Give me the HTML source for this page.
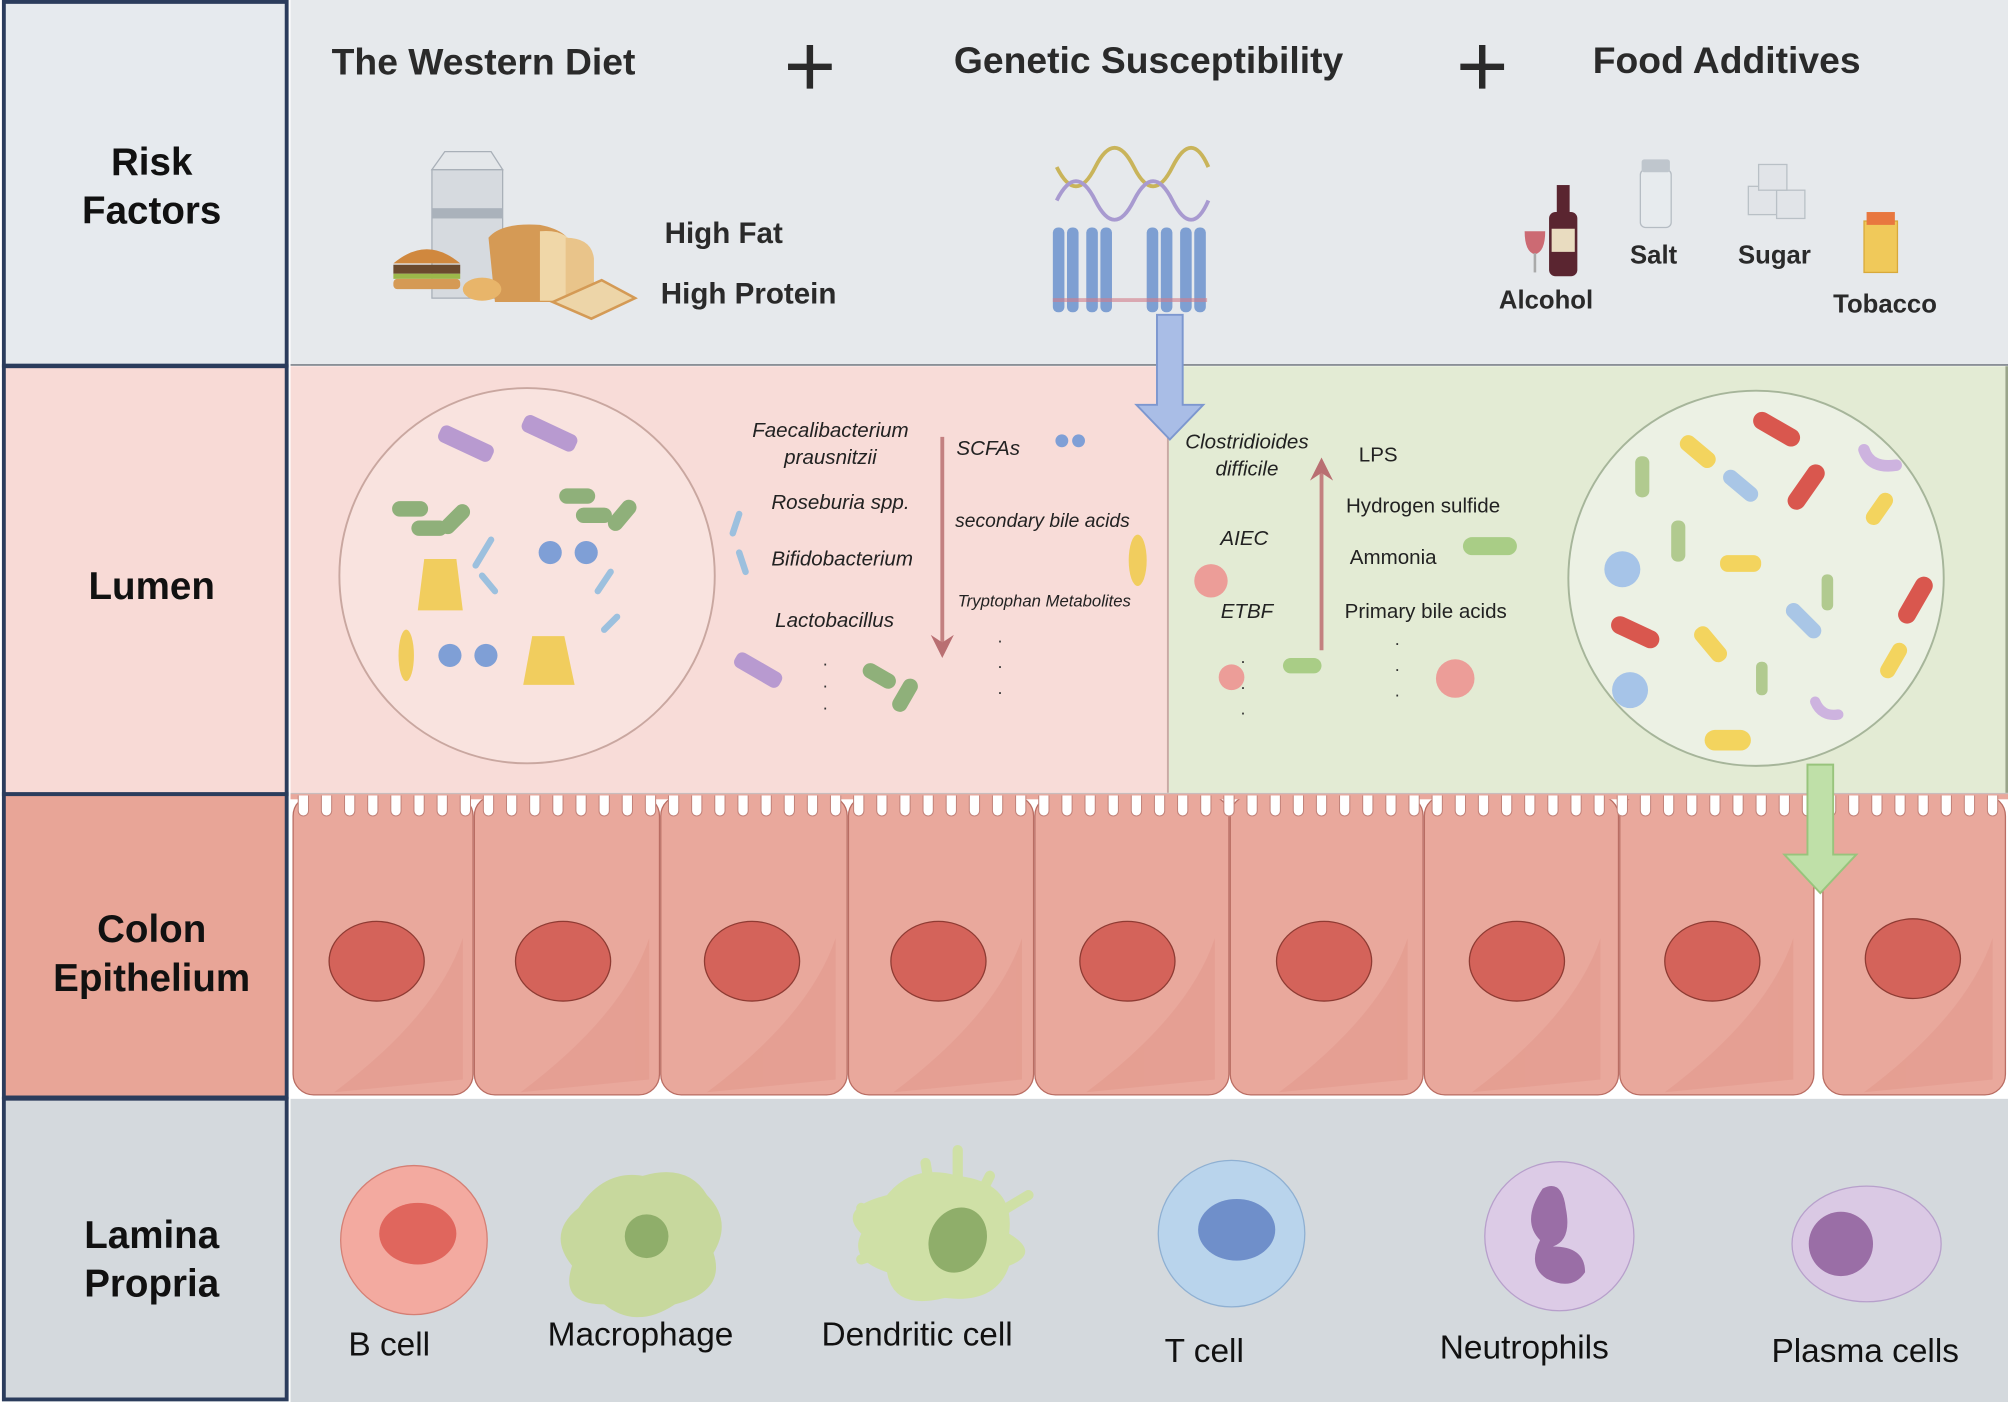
<!DOCTYPE html>
<html><head><meta charset="utf-8">
<style>
html,body{margin:0;padding:0;background:#fff;}
svg{display:block;}
text{font-family:"Liberation Sans",Arial,sans-serif;}
</style></head>
<body>
<svg width="2008" height="1402" viewBox="0 0 1562 1091" preserveAspectRatio="none" xmlns="http://www.w3.org/2000/svg">
<!-- backgrounds -->
<rect x="0" y="0" width="1562" height="1091" fill="#ffffff"/>
<rect x="226" y="0" width="1336" height="284" fill="#e6e9ec"/>
<line x1="226" y1="284" x2="1562" y2="284" stroke="#8a8f96" stroke-width="1.5"/>
<rect x="226" y="285" width="682" height="332" fill="#f8dcd8"/>
<rect x="909" y="285" width="653" height="332" fill="#e3ebd4"/>
<line x1="908.5" y1="285" x2="908.5" y2="617" stroke="#c9a9a4" stroke-width="1.5"/>
<rect x="1560" y="285" width="2" height="332" fill="#9aa58a"/>
<rect x="226" y="617" width="1336" height="2" fill="#c9bcbc"/>
<rect x="226" y="855" width="1336" height="236" fill="#d4d9dd"/>

<!-- left column -->
<g stroke="#2b3c5c" stroke-width="3">
<rect x="3" y="1.5" width="220" height="283" fill="#e6eaee"/>
<rect x="3" y="285" width="220" height="333" fill="#f8dad6"/>
<rect x="3" y="618" width="220" height="236" fill="#e8a597"/>
<rect x="3" y="855" width="220" height="234" fill="#d4d9dd"/>
</g>
<g font-weight="bold" font-size="30" fill="#111" text-anchor="middle">
<text x="118" y="136">Risk</text>
<text x="118" y="174">Factors</text>
<text x="118" y="466">Lumen</text>
<text x="118" y="733">Colon</text>
<text x="118" y="771">Epithelium</text>
<text x="118" y="971">Lamina</text>
<text x="118" y="1009">Propria</text>
</g>

<!-- header -->
<g font-weight="bold" font-size="29" fill="#2a2a2a">
<text x="258" y="58">The Western Diet</text>
<text x="742" y="57">Genetic Susceptibility</text>
<text x="1239" y="57">Food Additives</text>
</g>
<g stroke="#2a2a2a" stroke-width="5">
<line x1="613" y1="52" x2="647" y2="52"/><line x1="630" y1="35" x2="630" y2="69"/>
<line x1="1136" y1="52" x2="1170" y2="52"/><line x1="1153" y1="35" x2="1153" y2="69"/>
</g>
<g font-weight="bold" font-size="23" fill="#2a2a2a">
<text x="517" y="189">High Fat</text>
<text x="514" y="236">High Protein</text>
</g>
<g font-weight="bold" font-size="20" fill="#2a2a2a">
<text x="1166" y="240">Alcohol</text>
<text x="1268" y="205">Salt</text>
<text x="1352" y="205">Sugar</text>
<text x="1426" y="243">Tobacco</text>
</g>

<!-- food icons -->
<rect x="336" y="132" width="55" height="100" fill="#d6dadf" stroke="#a9b0b8"/>
<polygon points="336,132 346,118 382,118 391,132" fill="#e4e7ea" stroke="#a9b0b8"/>
<rect x="336" y="162" width="55" height="8" fill="#aab2bb"/>
<path d="M380,185 q10,-12 40,-10 q25,5 25,20 l0,40 l-60,0 z" fill="#d59a55"/>
<path d="M420,180 q22,-2 28,14 l0,40 l-28,0 z" fill="#f0d7a8"/>
<path d="M440,185 q20,0 22,16 l0,32 l-22,0 z" fill="#e9c48a"/>
<polygon points="430,235 468,218 494,232 460,248" fill="#edd5a8" stroke="#d49a55" stroke-width="2"/>
<path d="M306,205 q26,-22 52,0 z" fill="#d0883e"/>
<rect x="306" y="206" width="52" height="7" fill="#6b4a2e"/>
<rect x="306" y="213" width="52" height="4" fill="#9cb84a"/>
<rect x="306" y="217" width="52" height="8" rx="3" fill="#d59a55"/>
<ellipse cx="375" cy="225" rx="15" ry="9" fill="#e8b56a"/>

<!-- DNA -->
<g fill="none" stroke-width="3">
<path d="M822,130 q15,30 30,0 q15,-30 30,0 q15,30 30,0 q15,-30 28,0" stroke="#c9b45a"/>
<path d="M822,156 q15,-30 30,0 q15,30 30,0 q15,-30 30,0 q15,30 28,0" stroke="#a89ad0"/>
</g>
<g fill="#7e9fd2">
<rect x="819" y="177" width="9" height="66" rx="4"/><rect x="830" y="177" width="9" height="66" rx="4"/>
<rect x="845" y="177" width="9" height="66" rx="4"/><rect x="856" y="177" width="9" height="66" rx="4"/>
<rect x="892" y="177" width="9" height="66" rx="4"/><rect x="903" y="177" width="9" height="66" rx="4"/>
<rect x="918" y="177" width="9" height="66" rx="4"/><rect x="929" y="177" width="9" height="66" rx="4"/>
</g>
<rect x="819" y="232" width="120" height="3" fill="#d27d8a" opacity="0.6"/>

<!-- additives icons -->
<rect x="1205" y="165" width="22" height="50" rx="5" fill="#5a2530"/>
<rect x="1211" y="144" width="10" height="24" fill="#5a2530"/>
<rect x="1207" y="178" width="18" height="18" fill="#e9dcc0"/>
<path d="M1186,180 h16 q0,16 -8,18 q-8,-2 -8,-18z" fill="#c64a55" opacity="0.8"/>
<rect x="1193" y="197" width="2" height="15" fill="#aaa"/>
<rect x="1276" y="132" width="24" height="45" rx="4" fill="#e7ebee" stroke="#b5bcc3"/>
<rect x="1277" y="124" width="22" height="10" rx="2" fill="#bfc6cd"/>
<g fill="#e1e4e8" stroke="#b9c0c6">
<rect x="1360" y="145" width="22" height="22"/><rect x="1382" y="148" width="22" height="22"/><rect x="1368" y="128" width="22" height="20"/>
</g>
<rect x="1450" y="172" width="26" height="40" fill="#f0c95a" stroke="#d8a93a"/>
<rect x="1452" y="165" width="22" height="10" fill="#e8773f"/>

<!-- lumen left circle -->
<circle cx="410" cy="448" r="146" fill="#f9e3df" stroke="#c9a7a0" stroke-width="1.5"/>
<g fill="#b89ad0">
<rect x="340" y="338" width="45" height="14" rx="5" transform="rotate(25 362 345)"/>
<rect x="405" y="330" width="45" height="14" rx="5" transform="rotate(25 427 337)"/>
<rect x="570" y="515" width="40" height="13" rx="5" transform="rotate(30 590 521)"/>
</g>
<g fill="#8fb07a">
<rect x="305" y="390" width="28" height="12" rx="6"/><rect x="320" y="405" width="28" height="12" rx="6"/><rect x="340" y="398" width="28" height="12" rx="6" transform="rotate(-45 354 404)"/>
<rect x="435" y="380" width="28" height="12" rx="6"/><rect x="448" y="395" width="28" height="12" rx="6"/><rect x="470" y="395" width="28" height="12" rx="6" transform="rotate(-50 484 401)"/>
<rect x="670" y="520" width="28" height="12" rx="6" transform="rotate(30 684 526)"/><rect x="690" y="535" width="28" height="12" rx="6" transform="rotate(-60 704 541)"/>
</g>
<g fill="#f1cd5e"><path d="M330,435 h25 l5,40 h-35z"/><path d="M414,495 h25 l8,38 h-40z"/><ellipse cx="316" cy="510" rx="6" ry="20"/><ellipse cx="885" cy="436" rx="7" ry="20"/></g>
<g fill="#7f9fd6"><circle cx="428" cy="430" r="9"/><circle cx="456" cy="430" r="9"/><circle cx="350" cy="510" r="9"/><circle cx="378" cy="510" r="9"/><circle cx="826" cy="343" r="5"/><circle cx="839" cy="343" r="5"/></g>
<g fill="none" stroke="#9cc0de" stroke-width="5" stroke-linecap="round"><path d="M370,440 l12,-20"/><path d="M385,460 l-10,-12"/><path d="M465,460 l10,-15"/><path d="M470,490 l10,-10"/><path d="M575,400 l-5,15"/><path d="M575,430 l5,15"/></g>

<!-- lumen texts left -->
<g font-style="italic" font-size="16" fill="#222">
<text x="646" y="340" text-anchor="middle">Faecalibacterium</text>
<text x="646" y="361" text-anchor="middle">prausnitzii</text>
<text x="600" y="396">Roseburia spp.</text>
<text x="600" y="440">Bifidobacterium</text>
<text x="603" y="488">Lactobacillus</text>
<text x="744" y="354">SCFAs</text>
<text x="743" y="410" font-size="15">secondary bile acids</text>
<text x="745" y="472" font-size="13">Tryptophan Metabolites</text>
</g>
<g fill="#333" font-size="14"><text x="640" y="518">.</text><text x="640" y="535">.</text><text x="640" y="552">.</text><text x="776" y="500">.</text><text x="776" y="520">.</text><text x="776" y="540">.</text><text x="965" y="516">.</text><text x="965" y="536">.</text><text x="965" y="556">.</text><text x="1085" y="502">.</text><text x="1085" y="522">.</text><text x="1085" y="542">.</text></g>
<line x1="733" y1="340" x2="733" y2="500" stroke="#c38080" stroke-width="3"/>
<polygon points="724,494 733,512 742,494 733,500" fill="#b96f72"/>
<line x1="1028" y1="368" x2="1028" y2="506" stroke="#c38080" stroke-width="3"/>
<polygon points="1019,374 1028,356 1037,374 1028,368" fill="#b96f72"/>

<!-- right lumen -->
<g font-style="italic" font-size="16" fill="#222" text-anchor="middle">
<text x="970" y="349">Clostridioides</text>
<text x="970" y="370">difficile</text>
<text x="968" y="424">AIEC</text>
<text x="970" y="481">ETBF</text>
</g>
<g font-size="16" fill="#222">
<text x="1057" y="359">LPS</text>
<text x="1047" y="399">Hydrogen sulfide</text>
<text x="1050" y="439">Ammonia</text>
<text x="1046" y="481">Primary bile acids</text>
</g>
<circle cx="942" cy="452" r="13" fill="#ec9d98"/>
<circle cx="958" cy="527" r="10" fill="#ec9d98"/>
<circle cx="1132" cy="528" r="15" fill="#ec9d98"/>
<rect x="998" y="512" width="30" height="12" rx="6" fill="#a9cd86"/>
<rect x="1138" y="418" width="42" height="14" rx="7" fill="#a9cd86"/>
<circle cx="1366" cy="450" r="146" fill="#ecf1e4" stroke="#a6b59a" stroke-width="1.5"/>
<g>
<rect x="1362" y="327" width="40" height="14" rx="7" fill="#d9574e" transform="rotate(30 1382 334)"/>
<rect x="1385" y="372" width="40" height="14" rx="7" fill="#d9574e" transform="rotate(-55 1405 379)"/>
<rect x="1470" y="460" width="40" height="14" rx="7" fill="#d9574e" transform="rotate(-60 1490 467)"/>
<rect x="1252" y="485" width="40" height="14" rx="7" fill="#d9574e" transform="rotate(25 1272 492)"/>
<rect x="1305" y="345" width="32" height="13" rx="6" fill="#f3d45e" transform="rotate(40 1321 351)"/>
<rect x="1448" y="390" width="28" height="12" rx="6" fill="#f3d45e" transform="rotate(-55 1462 396)"/>
<rect x="1338" y="432" width="32" height="13" rx="6" fill="#f3d45e"/>
<rect x="1315" y="495" width="32" height="13" rx="6" fill="#f3d45e" transform="rotate(50 1331 501)"/>
<rect x="1458" y="508" width="30" height="12" rx="6" fill="#f3d45e" transform="rotate(-60 1473 514)"/>
<rect x="1326" y="568" width="36" height="16" rx="8" fill="#f3d45e"/>
<rect x="1338" y="372" width="32" height="12" rx="6" fill="#a9c6e6" transform="rotate(40 1354 378)"/>
<rect x="1386" y="477" width="34" height="12" rx="6" fill="#a9c6e6" transform="rotate(45 1403 483)"/>
<rect x="1272" y="355" width="11" height="32" rx="5" fill="#b1ca8f"/>
<rect x="1300" y="405" width="11" height="32" rx="5" fill="#b1ca8f"/>
<rect x="1417" y="447" width="9" height="28" rx="4" fill="#b1ca8f"/>
<rect x="1366" y="515" width="9" height="26" rx="4" fill="#b1ca8f"/>
<circle cx="1262" cy="443" r="14" fill="#a6c4e8"/>
<circle cx="1268" cy="537" r="14" fill="#a6c4e8"/>
<path d="M1450,350 q5,15 25,12" stroke="#cdb3df" stroke-width="9" fill="none" stroke-linecap="round"/>
<path d="M1412,546 q5,12 18,10" stroke="#cdb3df" stroke-width="8" fill="none" stroke-linecap="round"/>
</g>

<!-- epithelium -->
<g>
<rect x="226" y="619" width="1336" height="236" fill="#ffffff"/>
<g fill="#e9a89c" stroke="#b96d63" stroke-width="1">
<rect x="228" y="619" width="140" height="233" rx="16"/>
<rect x="369" y="619" width="144" height="233" rx="16"/>
<rect x="514" y="619" width="145" height="233" rx="16"/>
<rect x="660" y="619" width="144" height="233" rx="16"/>
<rect x="805" y="619" width="151" height="233" rx="16"/>
<rect x="957" y="619" width="150" height="233" rx="16"/>
<rect x="1108" y="619" width="151" height="233" rx="16"/>
<rect x="1260" y="619" width="151" height="233" rx="16"/>
<rect x="1418" y="619" width="142" height="233" rx="16"/>
</g>
<rect x="226" y="618" width="1336" height="4" fill="#e9a89c"/>
<g fill="#ffffff" stroke="#c2837a" stroke-width="0.8" id="mv">
</g>
<g fill="#e39a8d" opacity="0.6">
<path d="M260,850 q80,-60 100,-120 l0,110 z"/><path d="M405,850 q80,-60 100,-120 l0,110 z"/><path d="M550,850 q80,-60 100,-120 l0,110 z"/><path d="M695,850 q80,-60 100,-120 l0,110 z"/><path d="M845,850 q80,-60 100,-120 l0,110 z"/><path d="M995,850 q80,-60 100,-120 l0,110 z"/><path d="M1145,850 q80,-60 100,-120 l0,110 z"/><path d="M1295,850 q80,-60 100,-120 l0,110 z"/><path d="M1450,850 q80,-60 100,-120 l0,110 z"/>
</g>
<g fill="#d4635a" stroke="#8e3b33" stroke-width="1">
<ellipse cx="293" cy="748" rx="37" ry="31"/><ellipse cx="438" cy="748" rx="37" ry="31"/><ellipse cx="585" cy="748" rx="37" ry="31"/><ellipse cx="730" cy="748" rx="37" ry="31"/><ellipse cx="877" cy="748" rx="37" ry="31"/><ellipse cx="1030" cy="748" rx="37" ry="31"/><ellipse cx="1180" cy="748" rx="37" ry="31"/><ellipse cx="1332" cy="748" rx="37" ry="31"/><ellipse cx="1488" cy="746" rx="37" ry="31"/>
</g>
</g>
<!-- microvilli -->
<g fill="#ffffff" stroke="#c2837a" stroke-width="0.8">
<path d="M232,619 v12 a4,4 0 0 0 8,0 v-12 M250,619 v12 a4,4 0 0 0 8,0 v-12 M268,619 v12 a4,4 0 0 0 8,0 v-12 M286,619 v12 a4,4 0 0 0 8,0 v-12 M304,619 v12 a4,4 0 0 0 8,0 v-12 M322,619 v12 a4,4 0 0 0 8,0 v-12 M340,619 v12 a4,4 0 0 0 8,0 v-12 M358,619 v12 a4,4 0 0 0 8,0 v-12 M376,619 v12 a4,4 0 0 0 8,0 v-12 M394,619 v12 a4,4 0 0 0 8,0 v-12 M412,619 v12 a4,4 0 0 0 8,0 v-12 M430,619 v12 a4,4 0 0 0 8,0 v-12 M448,619 v12 a4,4 0 0 0 8,0 v-12 M466,619 v12 a4,4 0 0 0 8,0 v-12 M484,619 v12 a4,4 0 0 0 8,0 v-12 M502,619 v12 a4,4 0 0 0 8,0 v-12 M520,619 v12 a4,4 0 0 0 8,0 v-12 M538,619 v12 a4,4 0 0 0 8,0 v-12 M556,619 v12 a4,4 0 0 0 8,0 v-12 M574,619 v12 a4,4 0 0 0 8,0 v-12 M592,619 v12 a4,4 0 0 0 8,0 v-12 M610,619 v12 a4,4 0 0 0 8,0 v-12 M628,619 v12 a4,4 0 0 0 8,0 v-12 M646,619 v12 a4,4 0 0 0 8,0 v-12 M664,619 v12 a4,4 0 0 0 8,0 v-12 M682,619 v12 a4,4 0 0 0 8,0 v-12 M700,619 v12 a4,4 0 0 0 8,0 v-12 M718,619 v12 a4,4 0 0 0 8,0 v-12 M736,619 v12 a4,4 0 0 0 8,0 v-12 M754,619 v12 a4,4 0 0 0 8,0 v-12 M772,619 v12 a4,4 0 0 0 8,0 v-12 M790,619 v12 a4,4 0 0 0 8,0 v-12 M808,619 v12 a4,4 0 0 0 8,0 v-12 M826,619 v12 a4,4 0 0 0 8,0 v-12 M844,619 v12 a4,4 0 0 0 8,0 v-12 M862,619 v12 a4,4 0 0 0 8,0 v-12 M880,619 v12 a4,4 0 0 0 8,0 v-12 M898,619 v12 a4,4 0 0 0 8,0 v-12 M916,619 v12 a4,4 0 0 0 8,0 v-12 M934,619 v12 a4,4 0 0 0 8,0 v-12 M952,619 v12 a4,4 0 0 0 8,0 v-12 M970,619 v12 a4,4 0 0 0 8,0 v-12 M988,619 v12 a4,4 0 0 0 8,0 v-12 M1006,619 v12 a4,4 0 0 0 8,0 v-12 M1024,619 v12 a4,4 0 0 0 8,0 v-12 M1042,619 v12 a4,4 0 0 0 8,0 v-12 M1060,619 v12 a4,4 0 0 0 8,0 v-12 M1078,619 v12 a4,4 0 0 0 8,0 v-12 M1096,619 v12 a4,4 0 0 0 8,0 v-12 M1114,619 v12 a4,4 0 0 0 8,0 v-12 M1132,619 v12 a4,4 0 0 0 8,0 v-12 M1150,619 v12 a4,4 0 0 0 8,0 v-12 M1168,619 v12 a4,4 0 0 0 8,0 v-12 M1186,619 v12 a4,4 0 0 0 8,0 v-12 M1204,619 v12 a4,4 0 0 0 8,0 v-12 M1222,619 v12 a4,4 0 0 0 8,0 v-12 M1240,619 v12 a4,4 0 0 0 8,0 v-12 M1258,619 v12 a4,4 0 0 0 8,0 v-12 M1276,619 v12 a4,4 0 0 0 8,0 v-12 M1294,619 v12 a4,4 0 0 0 8,0 v-12 M1312,619 v12 a4,4 0 0 0 8,0 v-12 M1330,619 v12 a4,4 0 0 0 8,0 v-12 M1348,619 v12 a4,4 0 0 0 8,0 v-12 M1366,619 v12 a4,4 0 0 0 8,0 v-12 M1384,619 v12 a4,4 0 0 0 8,0 v-12 M1402,619 v12 a4,4 0 0 0 8,0 v-12 M1420,619 v12 a4,4 0 0 0 8,0 v-12 M1438,619 v12 a4,4 0 0 0 8,0 v-12 M1456,619 v12 a4,4 0 0 0 8,0 v-12 M1474,619 v12 a4,4 0 0 0 8,0 v-12 M1492,619 v12 a4,4 0 0 0 8,0 v-12 M1510,619 v12 a4,4 0 0 0 8,0 v-12 M1528,619 v12 a4,4 0 0 0 8,0 v-12 M1546,619 v12 a4,4 0 0 0 8,0 v-12"/>
</g>

<!-- big arrows -->
<polygon points="900,245 920,245 920,315 936,315 910,342 884,315 900,315" fill="#a9bde6" stroke="#7d97cf" stroke-width="1.5"/>
<polygon points="1406,595 1426,595 1426,665 1444,665 1416,695 1388,665 1406,665" fill="#bfe0a8" stroke="#98c47c" stroke-width="1.5"/>

<!-- lamina propria cells -->
<ellipse cx="322" cy="965" rx="57" ry="58" fill="#f3aaa0" stroke="#d57f74"/>
<ellipse cx="325" cy="960" rx="30" ry="24" fill="#e0665d"/>
<path d="M450,940 q20,-30 50,-25 q35,-10 50,15 q20,20 5,45 q10,30 -30,40 q-30,20 -55,0 q-35,0 -25,-30 q-20,-25 5,-45z" fill="#c7d89d"/>
<circle cx="503" cy="962" r="17" fill="#8fae6a"/>
<path d="M690,930 q20,-25 55,-15 q45,5 40,45 q25,15 0,25 q-10,30 -50,25 q-40,10 -45,-20 q-30,-10 -20,-30 q-20,-20 20,-30z" fill="#cfe0a6"/>
<path d="M720,905 l5,30 M745,895 l0,25 M770,915 l-10,20 M800,930 l-25,15 M670,940 l30,10 M670,980 l30,-10" stroke="#cfe0a6" stroke-width="8" stroke-linecap="round"/>
<ellipse cx="745" cy="965" rx="22" ry="26" fill="#8fae6a" transform="rotate(25 745 965)"/>
<ellipse cx="958" cy="960" rx="57" ry="57" fill="#b9d4ec" stroke="#8fb0d2"/>
<ellipse cx="962" cy="957" rx="30" ry="24" fill="#6f8fca"/>
<circle cx="1213" cy="962" r="58" fill="#dccbe6" stroke="#b79fcb"/>
<path d="M1200,925 q15,-8 18,15 q5,25 -10,30 q25,0 25,20 q-10,15 -30,5 q-15,-10 -5,-30 q-15,-15 2,-40z" fill="#9a6ea6"/>
<ellipse cx="1452" cy="968" rx="58" ry="45" fill="#dac9e4" stroke="#b7a0cb"/>
<circle cx="1432" cy="968" r="25" fill="#9a6ea6"/>
<g font-size="26" fill="#111">
<text x="271" y="1055">B cell</text>
<text x="426" y="1047">Macrophage</text>
<text x="639" y="1047">Dendritic cell</text>
<text x="906" y="1060">T cell</text>
<text x="1120" y="1057">Neutrophils</text>
<text x="1378" y="1060">Plasma cells</text>
</g>
</svg>
</body></html>
